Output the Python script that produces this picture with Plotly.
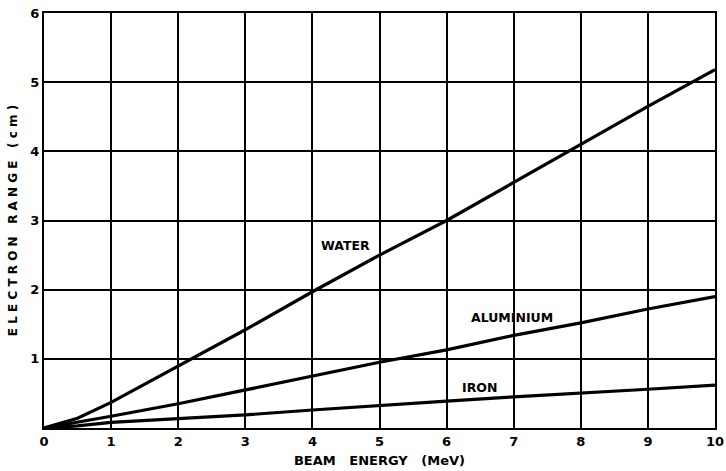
import plotly.graph_objects as go

energy = [0, 0.5, 1, 2, 3, 4, 5, 6, 7, 8, 9, 10]
water = [0, 0.14, 0.37, 0.9, 1.42, 1.97, 2.5, 3.0, 3.55, 4.1, 4.65, 5.18]
aluminium = [0, 0.08, 0.17, 0.35, 0.55, 0.75, 0.95, 1.13, 1.34, 1.52, 1.72, 1.9]
iron = [0, 0.03, 0.08, 0.13, 0.19, 0.26, 0.33, 0.39, 0.45, 0.5, 0.56, 0.62]

x_ticks = list(range(0, 11))
y_ticks = [1, 2, 3, 4, 5, 6]

labels = ["WATER", "ALUMINIUM", "IRON"]
label_x = [4.5, 6.97, 6.49]
label_y = [2.64, 1.6, 0.59]

fig = go.Figure()
for ys in (water, aluminium, iron):
    fig.add_trace(go.Scatter(x=energy, y=ys, mode="lines",
                             line=dict(color="black", width=3.2),
                             showlegend=False, hoverinfo="skip"))

for t, lx, ly in zip(labels, label_x, label_y):
    fig.add_annotation(x=lx, y=ly, text=t, showarrow=False,
                       font=dict(family="DejaVu Sans", size=12.5, color="black", weight="bold"))

fig.update_layout(
    width=726, height=471,
    margin=dict(l=44, r=11, t=13, b=43),
    paper_bgcolor="white", plot_bgcolor="white",
    font=dict(family="DejaVu Sans", color="black", weight="bold"),
)
fig.update_xaxes(range=[0, 10], tickvals=x_ticks, ticktext=[str(v) for v in x_ticks],
                 ticklabeloverflow="allow", automargin=False,
                 showgrid=True, gridcolor="black", gridwidth=1.6,
                 showline=True, linecolor="black", linewidth=2, mirror=True,
                 zeroline=False, ticks="", tickfont=dict(size=13, weight="bold"),
                 title=dict(text="BEAM   ENERGY   (MeV)", font=dict(size=13, weight="bold"), standoff=8))
fig.update_yaxes(range=[0, 6], tickvals=y_ticks, ticktext=[str(v) for v in y_ticks],
                 automargin=False,
                 showgrid=True, gridcolor="black", gridwidth=1.6,
                 showline=True, linecolor="black", linewidth=2, mirror=True,
                 zeroline=False, ticks="", tickfont=dict(size=13, weight="bold"),
                 title=dict(text="E L E C T R O N   R A N G E   ( c m )", font=dict(size=12, weight="bold"), standoff=10))

fig.write_html("out.html")
